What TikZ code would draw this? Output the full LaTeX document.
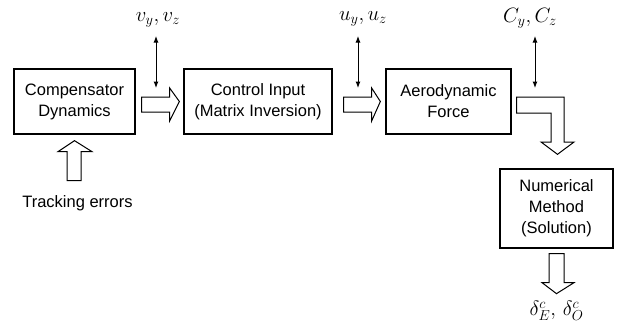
\documentclass[tikz,border=0pt]{standalone}
\usepackage{fontspec}
\setmainfont{Liberation Sans}
\usetikzlibrary{arrows.meta,calc}
\begin{document}
\begin{tikzpicture}[x=1pt,y=-1pt,
  block/.style={draw,line width=1.3pt,align=center,inner sep=0pt,
    font=\fontsize{16.5}{21}\selectfont},
  hollow/.style={draw,line width=1pt,fill=white,line join=miter},
  sig/.style={{Latex[length=6.5pt,width=5pt]}-{Latex[length=6.5pt,width=5pt]},line width=1pt},
  mlabel/.style={inner sep=1pt,font=\fontsize{20}{22}\selectfont},
  plain/.style={inner sep=0pt,font=\fontsize{16.5}{20}\selectfont}]
\useasboundingbox (0,0) rectangle (618,327);

% blocks
\node[block,minimum width=121pt,minimum height=65pt] (comp) at (74.5,101.5) {Compensator\\Dynamics};
\node[block,minimum width=148pt,minimum height=65pt] (ctrl) at (258,101.5) {Control Input\\(Matrix Inversion)};
\node[block,minimum width=125pt,minimum height=65pt] (aero) at (448.5,101.5) {Aerodynamic\\Force};
\node[block,minimum width=113pt,minimum height=79pt] (num) at (556.5,208.5) {Numerical\\Method\\(Solution)};

% input / output texts
\node[plain] (track) at (77.5,203) {Tracking errors};
\node[mlabel] (vlab) at (158,20) {$v_y,v_z$};
\node[mlabel] (ulab) at (363,19) {$u_y,u_z$};
\node[mlabel] (clab) at (530,18) {$C_y,C_z$};
\node[mlabel] (dlab) at (556.5,311) {$\delta_E^c,\,\delta_O^c$};

% hollow flow arrows
\draw[hollow] ($(comp.east)+(6,-4.5)$) -- ++(28,0) -- ++(0,-9) -- ($(ctrl.west)+(-4,0)$)
  -- ($(comp.east)+(34,19.5)$) -- ++(0,-9) -- ++(-28,0) -- cycle;
\draw[hollow] ($(ctrl.east)+(11,-4.5)$) -- ++(28,0) -- ++(0,-9) -- ($(aero.west)+(-5,0)$)
  -- ($(ctrl.east)+(39,19.5)$) -- ++(0,-9) -- ++(-28,0) -- cycle;
\draw[hollow] ($(aero.east)+(5,-4.5)$) -- (564,97) -- (564,142) -- (574,142)
  -- ($(num.north)+(1,-14)$) -- (541,142) -- (551,142) -- (551,113) -- ($(aero.east)+(5,11.5)$) -- cycle;
\draw[hollow] ($(num.south)+(-7.5,5)$) -- ++(0,29) -- ++(-7,0) -- ($(num.south)+(0,45)$)
  -- ++(17.5,-11) -- ++(-10,0) -- ($(num.south)+(7.5,5)$) -- cycle;
\draw[hollow] ($(comp.south)+(-7.5,46)$) -- ++(0,-29) -- ++(-9,0) -- ($(comp.south)+(0,6)$)
  -- ++(17.5,11) -- ++(-11,0) -- ($(comp.south)+(6.5,46)$) -- cycle;

% two-way signal arrows
\coordinate (va) at (156,88);
\coordinate (ua) at (358,88);
\coordinate (ca) at (535,88);
\draw[sig] (156,36) -- (va);
\draw[sig] (358,36) -- (ua);
\draw[sig] (535,36) -- (ca);
\end{tikzpicture}
\end{document}
